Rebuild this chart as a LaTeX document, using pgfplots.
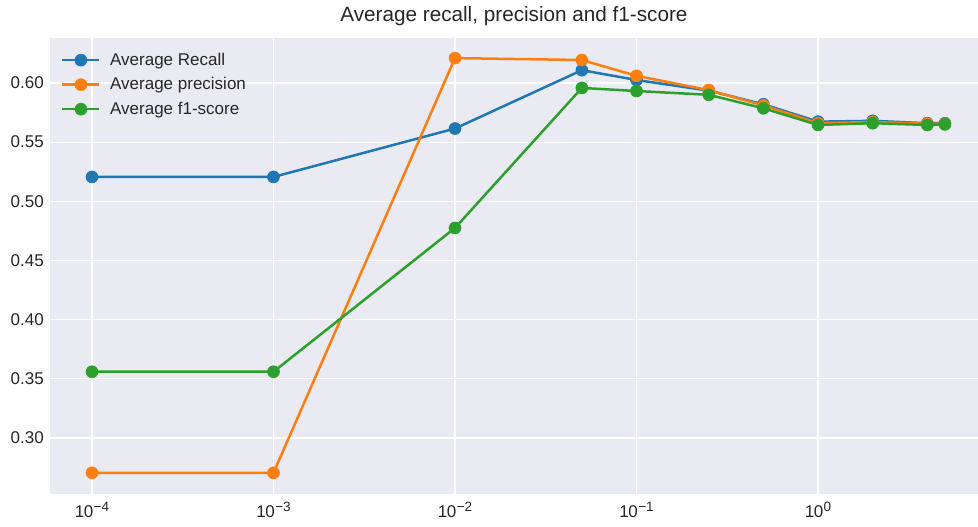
\documentclass[border=0pt]{standalone}
\usepackage{pgfplots}
\pgfplotsset{compat=1.18}
\usepackage{fontspec}
\setmainfont{Liberation Sans}
\definecolor{sbbg}{HTML}{EAEAF2}
\definecolor{tabblue}{HTML}{1F77B4}
\definecolor{taborange}{HTML}{FF7F0E}
\definecolor{tabgreen}{HTML}{2CA02C}
\newcommand\tl[1]{1\kern-0.5pt0\kern0.5pt\raisebox{6.5pt}{\fontsize{13.5}{14}\selectfont #1}}
\begin{document}
\begin{tikzpicture}
\useasboundingbox (0,0) rectangle (978pt,527pt);
\begin{axis}[
  at={(50pt,33pt)}, anchor=south west,
  scale only axis, width=937pt, height=456pt,
  xmode=log, log basis x=10,
  xmin=5.87e-5, xmax=8.53,
  ymin=0.2527, ymax=0.638,
  axis background/.style={fill=sbbg},
  axis line style={draw=none},
  tick style={draw=none},
  xminorticks=false,
  grid=major,
  major grid style={white, line width=1.2pt},
  xtick={1e-4,1e-3,1e-2,1e-1,1},
  xticklabels={\tl{−4},\tl{−3},\tl{−2},\tl{−1},\tl{0}},
  ytick={0.30,0.35,0.40,0.45,0.50,0.55,0.60},
  yticklabel style={/pgf/number format/fixed, /pgf/number format/fixed zerofill, /pgf/number format/precision=2},
  /pgf/number format/assume math mode=true,
  ticklabel style={font=\fontsize{17}{20}\selectfont, text=black!85},
  yticklabel style={inner sep=0pt, xshift=-6pt},
  xticklabel style={inner sep=0pt, anchor=base, yshift=-24pt},
  title={Average recall, precision and f1-score},
  title style={font=\fontsize{20.7}{24}\selectfont, text=black!85, at={(0.4952,1)}, anchor=base, yshift=10pt},
  legend cell align=left,
  legend image code/.code={\draw[mark repeat=2,mark phase=2,#1] plot coordinates {(0pt,0pt) (18.5pt,0pt) (37pt,0pt)};},
  legend style={draw=none, fill=none, at={(0,1)}, anchor=north west, xshift=11pt, yshift=-13pt,
    inner sep=0pt, row sep=6.5pt, /tikz/column sep=7.5pt,
    font=\fontsize{17}{20}\selectfont,
    nodes={inner sep=2pt, text height=12pt, text depth=2pt, text=black!85}},
  every axis plot/.append style={line width=2.5pt, mark=*, mark size=6pt, mark options={line width=0.6pt}},
  clip=false,
]
\addplot[tabblue] coordinates {
 (1e-4,0.5206) (1e-3,0.5206) (1e-2,0.5615) (0.05,0.6108) (0.1,0.6025) (0.25,0.5935) (0.5,0.5820) (1,0.5673) (2,0.5680) (4,0.5660) (5,0.5660)};
\addlegendentry{Average Recall}
\addplot[taborange] coordinates {
 (1e-4,0.2706) (1e-3,0.2706) (1e-2,0.6210) (0.05,0.6194) (0.1,0.6060) (0.25,0.5940) (0.5,0.5810) (1,0.5660) (2,0.5670) (4,0.5655) (5,0.5655)};
\addlegendentry{Average precision}
\addplot[tabgreen] coordinates {
 (1e-4,0.3560) (1e-3,0.3560) (1e-2,0.4775) (0.05,0.5958) (0.1,0.5932) (0.25,0.5900) (0.5,0.5786) (1,0.5645) (2,0.5660) (4,0.5645) (5,0.5650)};
\addlegendentry{Average f1-score}
\end{axis}
\end{tikzpicture}
\end{document}
